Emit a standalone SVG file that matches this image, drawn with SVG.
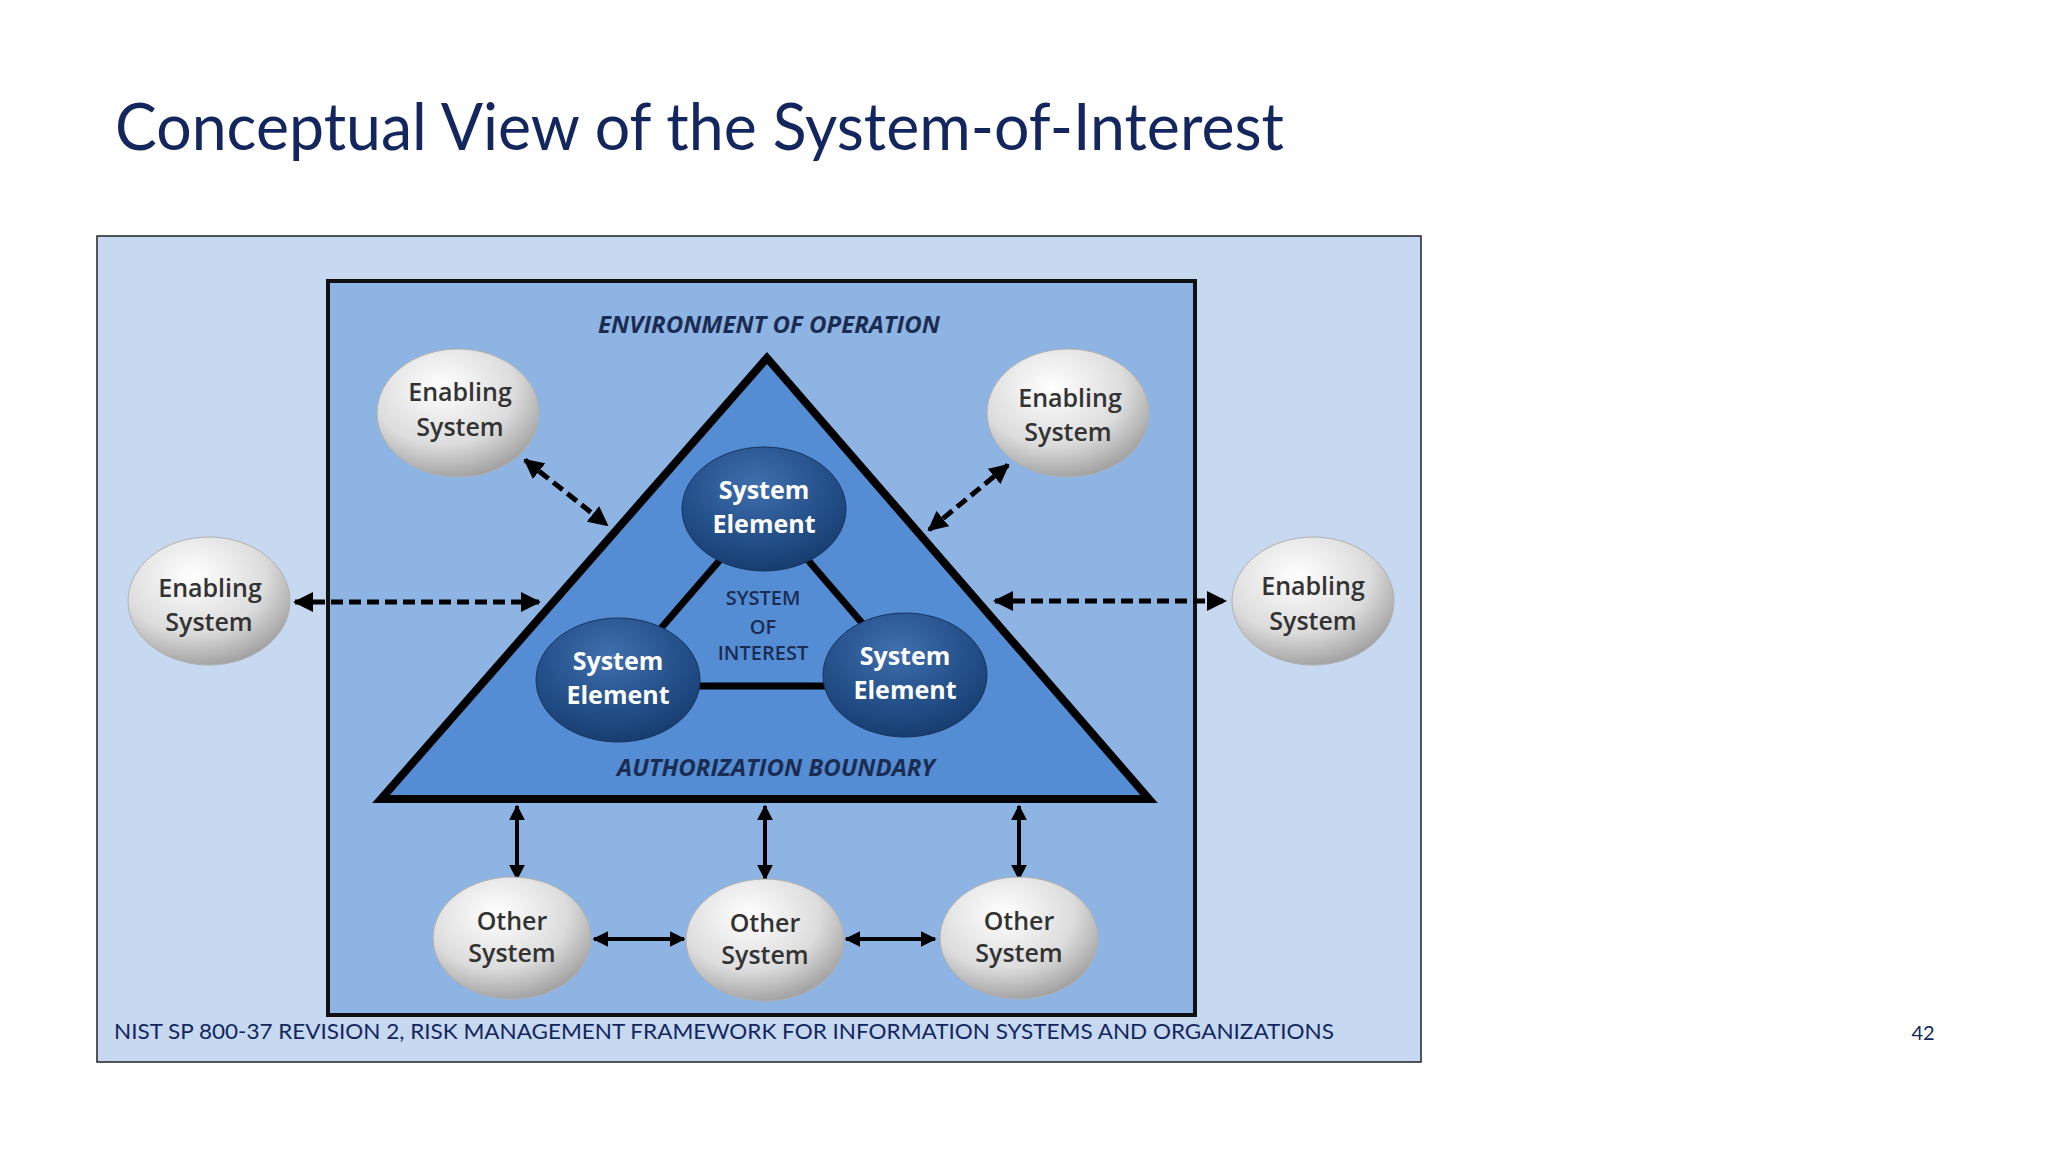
<svg xmlns="http://www.w3.org/2000/svg" width="2048" height="1152" viewBox="0 0 2048 1152">
<defs>
<radialGradient id="gray" cx="0.4" cy="0.3" r="0.75">
<stop offset="0" stop-color="#ffffff"/><stop offset="0.6" stop-color="#dcdcdc"/><stop offset="1" stop-color="#9a9a9a"/>
</radialGradient>
<radialGradient id="blue" cx="0.45" cy="0.3" r="0.75">
<stop offset="0" stop-color="#3f6fae"/><stop offset="0.7" stop-color="#1f4a82"/><stop offset="1" stop-color="#163a6a"/>
</radialGradient>
<marker id="ah" viewBox="0 0 10 10" refX="9" refY="5" markerWidth="4" markerHeight="4" orient="auto-start-reverse"><path d="M0,0 L10,5 L0,10 z" fill="#000"/></marker>
<marker id="ah2" viewBox="0 0 10 10" refX="9" refY="5" markerWidth="4" markerHeight="4" orient="auto-start-reverse"><path d="M0,0 L10,5 L0,10 z" fill="#000"/></marker>
</defs>
<style>
.gs{fill:url(#gray);stroke:#b0b0b0;stroke-width:1}
.bs{fill:url(#blue);stroke:#17345e;stroke-width:1}
.gt{font-family:"Open Sans",sans-serif;font-weight:600;font-size:25px;fill:#333;text-anchor:middle}
.bt{font-family:"Open Sans",sans-serif;font-weight:700;font-size:25px;fill:#fff;text-anchor:middle}
.lbl{font-family:"Open Sans",sans-serif;font-weight:700;font-style:italic;font-size:24px;fill:#1b2c52;text-anchor:middle}
.dash{stroke:#000;stroke-width:5;stroke-dasharray:12 6;fill:none;marker-start:url(#ah);marker-end:url(#ah)}
.sol{stroke:#000;stroke-width:4;fill:none;marker-start:url(#ah2);marker-end:url(#ah2)}
</style>
<rect width="2048" height="1152" fill="#fff"/>
<text x="115" y="150" font-family="Lato,sans-serif" font-size="66" fill="#14265e" textLength="1169" lengthAdjust="spacingAndGlyphs">Conceptual View of the System-of-Interest</text>
<rect x="97" y="236" width="1324" height="826" fill="#c6d9f1" stroke="#222" stroke-width="1.5"/>
<rect x="328" y="281" width="867" height="734" fill="#8eb4e3" stroke="#111" stroke-width="4"/>
<text class="lbl" x="769" y="333">ENVIRONMENT OF OPERATION</text>
<g id="boundary"><polygon points="767,358 381,799 1149,799" fill="#548dd4" stroke="#000" stroke-width="8" stroke-linejoin="miter"/></g>
<g id="inner-links" stroke="#000" stroke-width="7"><line x1="764" y1="509" x2="618" y2="678"/><line x1="764" y1="509" x2="905" y2="673"/><line x1="618" y1="686" x2="905" y2="686"/></g>
<text class="lbl" x="776" y="776">AUTHORIZATION BOUNDARY</text>
<g font-family="Open Sans,sans-serif" font-weight="600" font-size="20" fill="#1b2c52" text-anchor="middle"><text x="763" y="605">SYSTEM</text><text x="763" y="634">OF</text><text x="763" y="660">INTEREST</text></g>
<g id="connectors">
<line class="dash" x1="525" y1="460" x2="607" y2="525"/>
<line class="dash" x1="1008" y1="465" x2="929" y2="530"/>
<line class="dash" x1="295" y1="602" x2="539" y2="602" stroke-width="7"/>
<line class="dash" x1="995" y1="601" x2="1225" y2="601" stroke-width="4"/>
<line class="sol" x1="517" y1="806" x2="517" y2="879"/>
<line class="sol" x1="765" y1="806" x2="765" y2="879"/>
<line class="sol" x1="1019" y1="806" x2="1019" y2="879"/>
<line class="sol" x1="594" y1="939" x2="684" y2="939"/>
<line class="sol" x1="846" y1="939" x2="935" y2="939"/>
</g>
<g id="se-top"><ellipse class="bs" cx="764" cy="509" rx="82" ry="62"/><text class="bt" x="764" y="499">System</text><text class="bt" x="764" y="533">Element</text></g>
<g id="se-left"><ellipse class="bs" cx="618" cy="680" rx="82" ry="62"/><text class="bt" x="618" y="670">System</text><text class="bt" x="618" y="704">Element</text></g>
<g id="se-right"><ellipse class="bs" cx="905" cy="675" rx="82" ry="62"/><text class="bt" x="905" y="665">System</text><text class="bt" x="905" y="699">Element</text></g>
<g id="es-tl"><ellipse class="gs" cx="458" cy="413" rx="81" ry="64"/><text class="gt" x="460" y="401">Enabling</text><text class="gt" x="460" y="436">System</text></g>
<g id="es-tr"><ellipse class="gs" cx="1068" cy="413" rx="81" ry="64"/><text class="gt" x="1070" y="407">Enabling</text><text class="gt" x="1068" y="441">System</text></g>
<g id="es-l"><ellipse class="gs" cx="209" cy="601" rx="81" ry="64"/><text class="gt" x="210" y="597">Enabling</text><text class="gt" x="209" y="631">System</text></g>
<g id="es-r"><ellipse class="gs" cx="1313" cy="601" rx="81" ry="64"/><text class="gt" x="1313" y="595">Enabling</text><text class="gt" x="1313" y="630">System</text></g>
<g id="os-1"><ellipse class="gs" cx="512" cy="938" rx="79" ry="61"/><text class="gt" x="512" y="930">Other</text><text class="gt" x="512" y="962">System</text></g>
<g id="os-2"><ellipse class="gs" cx="765" cy="940" rx="79" ry="61"/><text class="gt" x="765" y="932">Other</text><text class="gt" x="765" y="964">System</text></g>
<g id="os-3"><ellipse class="gs" cx="1019" cy="938" rx="79" ry="61"/><text class="gt" x="1019" y="930">Other</text><text class="gt" x="1019" y="962">System</text></g>
<text x="114" y="1039" font-family="Lato,sans-serif" font-size="21" fill="#14265e" textLength="1220" lengthAdjust="spacingAndGlyphs">NIST SP 800-37 REVISION 2, RISK MANAGEMENT FRAMEWORK FOR INFORMATION SYSTEMS AND ORGANIZATIONS</text>
<text x="1923" y="1040" font-family="Lato,sans-serif" font-size="20" fill="#14265e" text-anchor="middle">42</text>
</svg>
